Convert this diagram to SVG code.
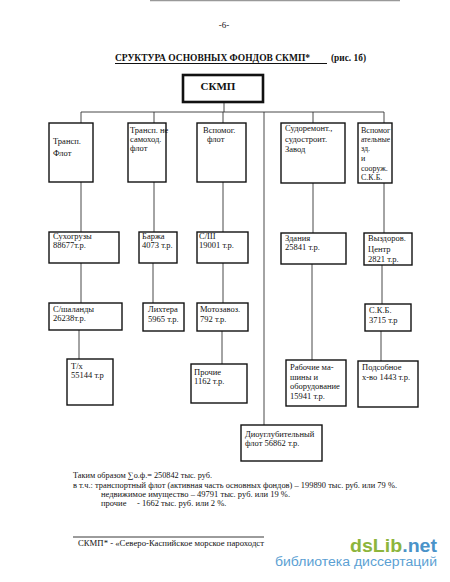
<svg xmlns="http://www.w3.org/2000/svg" width="450" height="582" viewBox="0 0 450 582">
<style>
.bg{fill:#ffffff}
.box{fill:#ffffff;stroke:#111;stroke-width:1.4}
.main{fill:#ffffff;stroke:#111;stroke-width:2.6}
.ln{stroke:#333;stroke-width:0.9;fill:none}
.t{font-family:"Liberation Serif","Times New Roman",serif;font-size:8.5px;fill:#111}
.s{font-family:"Liberation Serif","Times New Roman",serif;font-size:8px;fill:#111}
.b{font-family:"Liberation Serif","Times New Roman",serif;font-size:9px;fill:#111}
.h{font-family:"Liberation Serif","Times New Roman",serif;font-size:10px;font-weight:bold;fill:#111}
.hm{font-family:"Liberation Serif","Times New Roman",serif;font-size:11px;font-weight:bold;fill:#111}
</style>
<rect class="bg" x="0" y="0" width="450" height="582"/>
<line x1="150" y1="0.7" x2="400" y2="0.7" stroke="#999" stroke-width="1.2"/>
<text class="b" x="224" y="28" text-anchor="middle">-6-</text>
<text class="h" x="115" y="61" textLength="195" lengthAdjust="spacingAndGlyphs">СРУКТУРА ОСНОВНЫХ ФОНДОВ СКМП*</text>
<line x1="115" y1="63.5" x2="327" y2="63.5" stroke="#111" stroke-width="1"/>
<text class="h" x="331" y="61" textLength="35" lengthAdjust="spacingAndGlyphs">(рис. 1б)</text>

<g id="connectors">
<line class="ln" x1="224" y1="102" x2="224" y2="112"/>
<line class="ln" x1="81" y1="112" x2="384" y2="112"/>
<line class="ln" x1="81" y1="112" x2="81" y2="123"/>
<line class="ln" x1="154" y1="112" x2="154" y2="123"/>
<line class="ln" x1="223" y1="112" x2="223" y2="123"/>
<line class="ln" x1="313" y1="112" x2="313" y2="123"/>
<line class="ln" x1="384" y1="112" x2="384" y2="123"/>
<line class="ln" x1="264" y1="112" x2="264" y2="425"/>
<line class="ln" x1="81" y1="182" x2="81" y2="232"/>
<line class="ln" x1="81" y1="263" x2="81" y2="303"/>
<line class="ln" x1="79" y1="330" x2="79" y2="359"/>
<line class="ln" x1="154" y1="182" x2="154" y2="232"/>
<line class="ln" x1="153" y1="263" x2="153" y2="303"/>
<line class="ln" x1="223" y1="182" x2="223" y2="232"/>
<line class="ln" x1="223" y1="263" x2="223" y2="303"/>
<line class="ln" x1="222" y1="331" x2="222" y2="364"/>
<line class="ln" x1="313" y1="183" x2="313" y2="233"/>
<line class="ln" x1="312" y1="264" x2="312" y2="360"/>
<line class="ln" x1="384" y1="183" x2="384" y2="233"/>
<line class="ln" x1="382" y1="265" x2="382" y2="304"/>
<line class="ln" x1="381" y1="331" x2="381" y2="361"/>
</g>

<g id="skmp"><rect class="main" x="183" y="75" width="80" height="27"/><text class="hm" x="218" y="90" text-anchor="middle">СКМП</text></g>

<g id="n-transp"><rect class="box" x="49" y="123" width="44" height="59"/>
<text class="t" x="53" y="144">Трансп.</text><text class="t" x="53" y="156">Флот</text></g>
<g id="n-nesam"><rect class="box" x="128" y="123" width="38" height="59"/>
<text class="t" x="130" y="133">Трансп. не</text><text class="t" x="130" y="142">самоход.</text><text class="t" x="130" y="151">флот</text></g>
<g id="n-vspom"><rect class="box" x="197" y="123" width="49" height="59"/>
<text class="t" x="203" y="133">Вспомог.</text><text class="t" x="207" y="142">флот</text></g>
<g id="n-sudorem"><rect class="box" x="281" y="123" width="64" height="60"/>
<text class="t" x="285" y="131">Судоремонт.,</text><text class="t" x="285" y="142">судостроит.</text><text class="t" x="285" y="152">Завод</text></g>
<g id="n-vspzd"><rect class="box" x="358" y="123" width="34" height="60"/>
<text class="s" x="361" y="133">Вспомог</text><text class="s" x="361" y="142" textLength="29" lengthAdjust="spacingAndGlyphs">ательные</text><text class="s" x="361" y="151">зд.</text><text class="s" x="361" y="161">и</text><text class="s" x="361" y="171">сооруж.</text><text class="s" x="361" y="180">С.К.Б.</text></g>

<g id="n-suhogr"><rect class="box" x="49" y="232" width="70" height="31"/>
<text class="t" x="53" y="239">Сухогрузы</text><text class="t" x="53" y="248">88677т.р.</text></g>
<g id="n-barzha"><rect class="box" x="139" y="232" width="38" height="31"/>
<text class="t" x="142" y="239">Баржа</text><text class="t" x="142" y="248">4073 т.р.</text></g>
<g id="n-ssh"><rect class="box" x="197" y="232" width="51" height="31"/>
<text class="t" x="199" y="239">С/Ш</text><text class="t" x="199" y="248">19001 т.р.</text></g>
<g id="n-zdania"><rect class="box" x="281" y="233" width="65" height="31"/>
<text class="t" x="285" y="241">Здания</text><text class="t" x="285" y="250">25841 т.р.</text></g>
<g id="n-vyzd"><rect class="box" x="364" y="233" width="48" height="32"/>
<text class="t" x="368" y="241">Выздоров.</text><text class="t" x="368" y="252">Центр</text><text class="t" x="368" y="262">2821 т.р.</text></g>

<g id="n-shal"><rect class="box" x="49" y="303" width="73" height="27"/>
<text class="t" x="53" y="312">С/шаланды</text><text class="t" x="53" y="321">26238т.р.</text></g>
<g id="n-liht"><rect class="box" x="143" y="303" width="41" height="28"/>
<text class="t" x="148" y="312">Лихтера</text><text class="t" x="148" y="322">5965 т.р.</text></g>
<g id="n-moto"><rect class="box" x="197" y="303" width="51" height="28"/>
<text class="t" x="200" y="312">Мотозавоз.</text><text class="t" x="200" y="322">792 т.р.</text></g>
<g id="n-skb"><rect class="box" x="365" y="304" width="46" height="27"/>
<text class="t" x="369" y="313">С.К.Б.</text><text class="t" x="369" y="323">3715 т.р</text></g>

<g id="n-tx"><rect class="box" x="67" y="359" width="46" height="46"/>
<text class="t" x="71" y="369">Т/х</text><text class="t" x="71" y="378">55144 т.р</text></g>
<g id="n-proch"><rect class="box" x="191" y="364" width="56" height="39"/>
<text class="t" x="194" y="375">Прочие</text><text class="t" x="194" y="384">1162 т.р.</text></g>
<g id="n-rab"><rect class="box" x="286" y="360" width="60" height="46"/>
<text class="t" x="290" y="370">Рабочие ма-</text><text class="t" x="290" y="380">шины и</text><text class="t" x="290" y="389">оборудование</text><text class="t" x="290" y="399">15941 т.р.</text></g>
<g id="n-podsob"><rect class="box" x="358" y="361" width="60" height="46"/>
<text class="t" x="362" y="370">Подсобное</text><text class="t" x="362" y="380">х-во 1443 т.р.</text></g>
<g id="n-dnouglub"><rect class="box" x="241" y="425" width="81" height="36"/>
<text class="t" x="245" y="437">Диоуглубительный</text><text class="t" x="245" y="446">флот  56862 т.р.</text></g>

<text class="t" x="73" y="478" textLength="139" lengthAdjust="spacingAndGlyphs">Таким образом ∑о.ф.= 250842 тыс. руб.</text>
<text class="t" x="73" y="488" textLength="324" lengthAdjust="spacingAndGlyphs">в т.ч.: транспортный флот (активная часть основных фондов) – 199890 тыс. руб. или  79 %.</text>
<text class="t" x="101" y="497">недвижимое имущество – 49791 тыс. руб. или 19 %.</text>
<text class="t" x="101" y="506">прочие</text>
<text class="t" x="137" y="506">- 1662 тыс. руб. или 2 %.</text>

<line x1="73" y1="537" x2="264" y2="537" stroke="#222" stroke-width="0.9"/>
<text class="t" x="78" y="546" textLength="186" lengthAdjust="spacingAndGlyphs">СКМП* -  «Северо-Каспийское морское пароходст</text>

<text x="350" y="552" font-family="Liberation Sans, Arial, sans-serif" font-size="19" font-weight="bold" textLength="87" lengthAdjust="spacingAndGlyphs"><tspan fill="#8db53c">dsLib</tspan><tspan fill="#4a93c9">.net</tspan></text>
<text x="275" y="566" font-family="Liberation Sans, Arial, sans-serif" font-size="12" fill="#5b9fd3" textLength="162" lengthAdjust="spacingAndGlyphs">библиотека диссертаций</text>
</svg>
